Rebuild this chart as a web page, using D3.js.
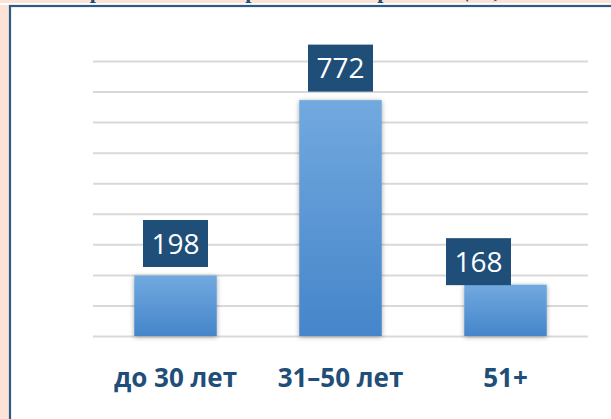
<!DOCTYPE html>
<html>
<head>
<meta charset="utf-8">
<script src="https://cdn.jsdelivr.net/npm/d3@7"></script>
<style>
  html, body { margin: 0; padding: 0; background: #FBE4D6; }
  svg { display: block; }
</style>
</head>
<body>
<svg id="chart"></svg>
<script>
// data
const categories = ['до 30 лет', '31–50 лет', '51+'];
const values = [198, 772, 168];
const yTicks = [0, 100, 200, 300, 400, 500, 600, 700, 800, 900];
const title = 'Возрастной состав работников организации, чел.';

const width = 611, height = 419;
const plot = {left: 93, right: 588, top: 61, bottom: 336};

// manual nudges of the value boxes (the last one was dragged in the original)
const labelNudge = [[0, 0], [0, 0], [-27, 9]];

const svg = d3.select('#chart')
  .attr('width', width)
  .attr('height', height);

const defs = svg.append('defs');

const grad = defs.append('linearGradient')
  .attr('id', 'barGrad')
  .attr('x1', 0).attr('y1', 0).attr('x2', 0).attr('y2', 1);
grad.append('stop').attr('offset', '0%').attr('stop-color', '#72A9DF');
grad.append('stop').attr('offset', '100%').attr('stop-color', '#4585CA');

const shadow = defs.append('filter')
  .attr('id', 'barShadow')
  .attr('x', '-30%').attr('y', '-30%').attr('width', '160%').attr('height', '160%');
shadow.append('feDropShadow')
  .attr('dx', 0).attr('dy', 1)
  .attr('stdDeviation', 2.5)
  .attr('flood-color', '#000')
  .attr('flood-opacity', 0.35);

// page background + title, which is cut off by the top edge in the original
svg.append('rect')
  .attr('width', width).attr('height', height)
  .attr('fill', '#FBE4D6');

svg.append('text')
  .attr('x', 300)
  .attr('y', -2)
  .attr('text-anchor', 'middle')
  .style('font-family', '"Liberation Serif", serif')
  .style('font-weight', 700)
  .style('font-size', '22px')
  .attr('fill', '#1F4E79')
  .text(title);

svg.append('rect')
  .attr('x', 0).attr('y', 3)
  .attr('width', width).attr('height', 2)
  .attr('fill', '#fff');

// chart frame (runs off the right and bottom edge)
svg.append('rect')
  .attr('x', 10).attr('y', 6)
  .attr('width', 700).attr('height', 500)
  .attr('fill', '#fff')
  .attr('stroke', '#2E5A88')
  .attr('stroke-width', 2.2);

const xScale = d3.scaleBand()
  .domain(categories)
  .range([plot.left, plot.right])
  .paddingInner(0.5)
  .paddingOuter(0.25);

const yScale = d3.scaleLinear()
  .domain([0, d3.max(yTicks)])
  .range([plot.bottom, plot.top]);

// gridlines
const grid = svg.append('g')
  .attr('transform', `translate(${plot.left},0)`)
  .call(d3.axisLeft(yScale)
    .tickValues(yTicks)
    .tickSize(-(plot.right - plot.left))
    .tickFormat(''));
grid.select('.domain').remove();
grid.selectAll('.tick line')
  .attr('stroke', '#D9D9D9')
  .attr('stroke-width', 2);

const rows = categories.map((c, i) => ({cat: c, value: values[i], nudge: labelNudge[i]}));

// bars
svg.append('g')
  .selectAll('rect')
  .data(rows)
  .join('rect')
    .attr('x', d => xScale(d.cat))
    .attr('y', d => yScale(d.value))
    .attr('width', xScale.bandwidth())
    .attr('height', d => yScale(0) - yScale(d.value))
    .attr('fill', 'url(#barGrad)')
    .attr('filter', 'url(#barShadow)');

// value boxes
const boxW = 65, boxH = 47, gap = 8.5;
const labels = svg.append('g')
  .selectAll('g')
  .data(rows)
  .join('g')
    .attr('transform', d => {
      const cx = xScale(d.cat) + xScale.bandwidth() / 2 + d.nudge[0];
      const by = yScale(d.value) - gap + d.nudge[1];
      return `translate(${cx},${by})`;
    });

labels.append('rect')
  .attr('x', -boxW / 2)
  .attr('y', -boxH)
  .attr('width', boxW)
  .attr('height', boxH)
  .attr('fill', '#1F4E79');

labels.append('text')
  .attr('x', 0)
  .attr('y', -boxH / 2)
  .attr('dy', '0.36em')
  .attr('text-anchor', 'middle')
  .style('font-family', '"Open Sans", sans-serif')
  .style('font-size', '28px')
  .attr('fill', '#fff')
  .text(d => d.value);

// category labels
svg.append('g')
  .selectAll('text')
  .data(categories)
  .join('text')
    .attr('x', d => xScale(d) + xScale.bandwidth() / 2)
    .attr('y', 387)
    .attr('text-anchor', 'middle')
    .style('font-family', '"Open Sans", sans-serif')
    .style('font-weight', 700)
    .style('font-size', '26px')
    .attr('fill', '#1F4E79')
    .text(d => d);
</script>
</body>
</html>
